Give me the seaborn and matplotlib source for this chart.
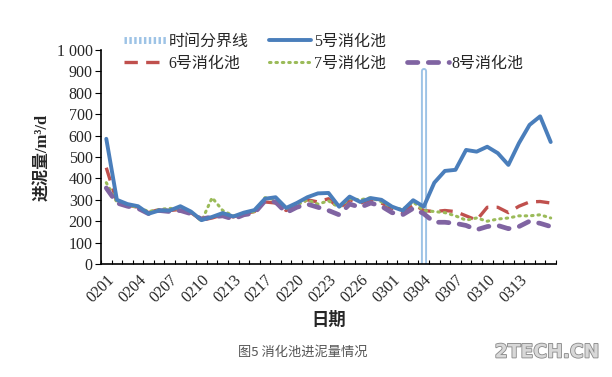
import numpy as np
import pandas as pd
import seaborn as sns
import matplotlib.pyplot as plt
import matplotlib.patheffects as pe
from matplotlib.lines import Line2D
from matplotlib.ticker import FuncFormatter, FixedLocator

sns.set_style('ticks')
plt.rcParams['font.family'] = ['Liberation Serif', 'Noto Sans CJK SC']

dates = ['0201', '0202', '0203', '0204', '0205', '0206', '0207', '0208', '0209', '0210',
         '0211', '0212', '0213', '0214', '0215', '0217', '0218', '0219', '0220', '0221',
         '0222', '0223', '0224', '0225', '0226', '0227', '0228', '0301', '0302', '0303',
         '0304', '0305', '0306', '0307', '0308', '0309', '0310', '0311', '0312', '0313',
         '0314', '0315', '0316']

s5 = [585, 300, 280, 270, 235, 250, 250, 270, 245, 205, 220, 238, 222, 240, 252, 305, 312, 262,
      285, 312, 330, 332, 268, 315, 290, 308, 300, 268, 250, 298, 268, 380, 435, 440, 533, 525,
      548, 518, 463, 565, 650, 690, 570]
s6 = [450, 290, 275, 265, 240, 255, 250, 255, 240, 205, 215, 230, 220, 235, 245, 290, 285, 250,
      275, 300, 290, 305, 260, 300, 285, 300, 285, 260, 240, 280, 250, 245, 250, 245, 225, 205,
      265, 265, 240, 270, 290, 292, 285]
s7 = [380, 290, 275, 265, 245, 255, 260, 255, 245, 200, 310, 250, 225, 235, 245, 310, 300, 260,
      275, 300, 280, 295, 265, 305, 300, 310, 290, 265, 255, 290, 250, 245, 240, 225, 205, 215,
      200, 210, 215, 225, 225, 230, 215]
s8 = [355, 285, 270, 260, 235, 250, 245, 250, 235, 210, 220, 225, 210, 230, 238, 295, 290, 240,
      265, 280, 265, 250, 230, 280, 265, 285, 270, 240, 230, 260, 235, 195, 195, 190, 180, 160,
      175, 180, 165, 175, 200, 190, 175]
divider_idx = 30
divider_top = 900

pos = np.arange(len(dates))

fig = plt.figure(figsize=(6.12, 3.77), dpi=100)
ax = fig.add_axes([101/612, 1-264/377, 455/612, 214/377])

# 时间分界线
ax.axvline(divider_idx, ymin=0, ymax=divider_top/1000, color='#9DC3E6', lw=4.4, zorder=1)
ax.axvline(divider_idx, ymin=0, ymax=divider_top/1000, color='white', lw=1.6, zorder=1)

sns.lineplot(x=pos, y=s6, ax=ax, color='#C0504D', lw=2.4, zorder=3)
ax.lines[-1].set_dashes([4, 2.5])
sns.lineplot(x=pos, y=s7, ax=ax, color='#9BBB59', lw=2.2, zorder=3)
ax.lines[-1].set_linestyle((0, (0.5, 1.6)))
ax.lines[-1].set_dash_capstyle('round')
sns.lineplot(x=pos, y=s8, ax=ax, color='#8064A2', lw=3.4, zorder=4)
ax.lines[-1].set_dashes([2.2, 2.2])
ax.lines[-1].set_dash_capstyle('round')
sns.lineplot(x=pos, y=s5, ax=ax, color='#4A7EBB', lw=2.8, zorder=5)
ax.lines[-1].set_solid_capstyle('round')

ax.set_xlim(-0.5, len(dates) - 0.5)
ax.set_ylim(0, 1000)
ax.set_yticks(np.arange(0, 1001, 100))
ax.yaxis.set_major_formatter(FuncFormatter(lambda v, p: '1 000' if v == 1000 else f'{int(v)}'))
ax.set_xticks(pos[:40:3])
ax.set_xticklabels(dates[:40:3], rotation=45, ha='right', rotation_mode='anchor')
ax.xaxis.set_minor_locator(FixedLocator(np.arange(-0.5, len(dates), 1)))
ax.tick_params(axis='x', which='major', length=0, labelsize=11.5, pad=6)
ax.tick_params(axis='x', which='minor', direction='in', length=3, width=0.8, color='black')
ax.tick_params(axis='y', direction='out', length=4, width=0.8, labelsize=11.5, pad=2, color='black')
for sp in ['top', 'right']:
    ax.spines[sp].set_visible(False)
for sp in ['left', 'bottom']:
    ax.spines[sp].set_color('black')
    ax.spines[sp].set_linewidth(1.2)

ax.set_xlabel('日期', fontsize=12.5, fontweight='bold', labelpad=4)
ax.set_ylabel('进泥量/m³/d', fontsize=12, fontweight='bold', labelpad=4)

h_div = Line2D([], [], color='#9DC3E6', lw=5, linestyle=(0, (0.35, 0.35)))
h5 = Line2D([], [], color='#4A7EBB', lw=2.8)
h6 = Line2D([], [], color='#C0504D', lw=2.4, dashes=[4, 2.5])
h7 = Line2D([], [], color='#9BBB59', lw=2.2, linestyle=(0, (0.5, 1.6)), dash_capstyle='round')
h8 = Line2D([], [], color='#8064A2', lw=3.4, dashes=[2.2, 2.2], dash_capstyle='round')
blank = Line2D([], [], alpha=0)
fig.legend([h_div, h6, h5, h7, blank, h8],
           ['时间分界线', '6号消化池', '5号消化池', '7号消化池', '', '8号消化池'],
           ncol=3, loc='upper left', bbox_to_anchor=(124/612, 1-34/377), frameon=False,
           fontsize=11.5, handlelength=2.6, handletextpad=0.2, columnspacing=1.3,
           labelspacing=0.35, borderaxespad=0, borderpad=0)

fig.text(303/612, 1-352/377, '图5 消化池进泥量情况', ha='center', va='center',
         fontsize=9.5, color='#555555', family=['Noto Sans CJK SC'])
fig.text(547/612, 1-352/377, '2TECH.CN', ha='center', va='center',
         fontsize=13.5, color='#D8D8D8', fontweight='bold', family=['DejaVu Sans'],
         path_effects=[pe.withStroke(linewidth=1.2, foreground='#888888')])

fig.savefig('out.png', dpi=100)
